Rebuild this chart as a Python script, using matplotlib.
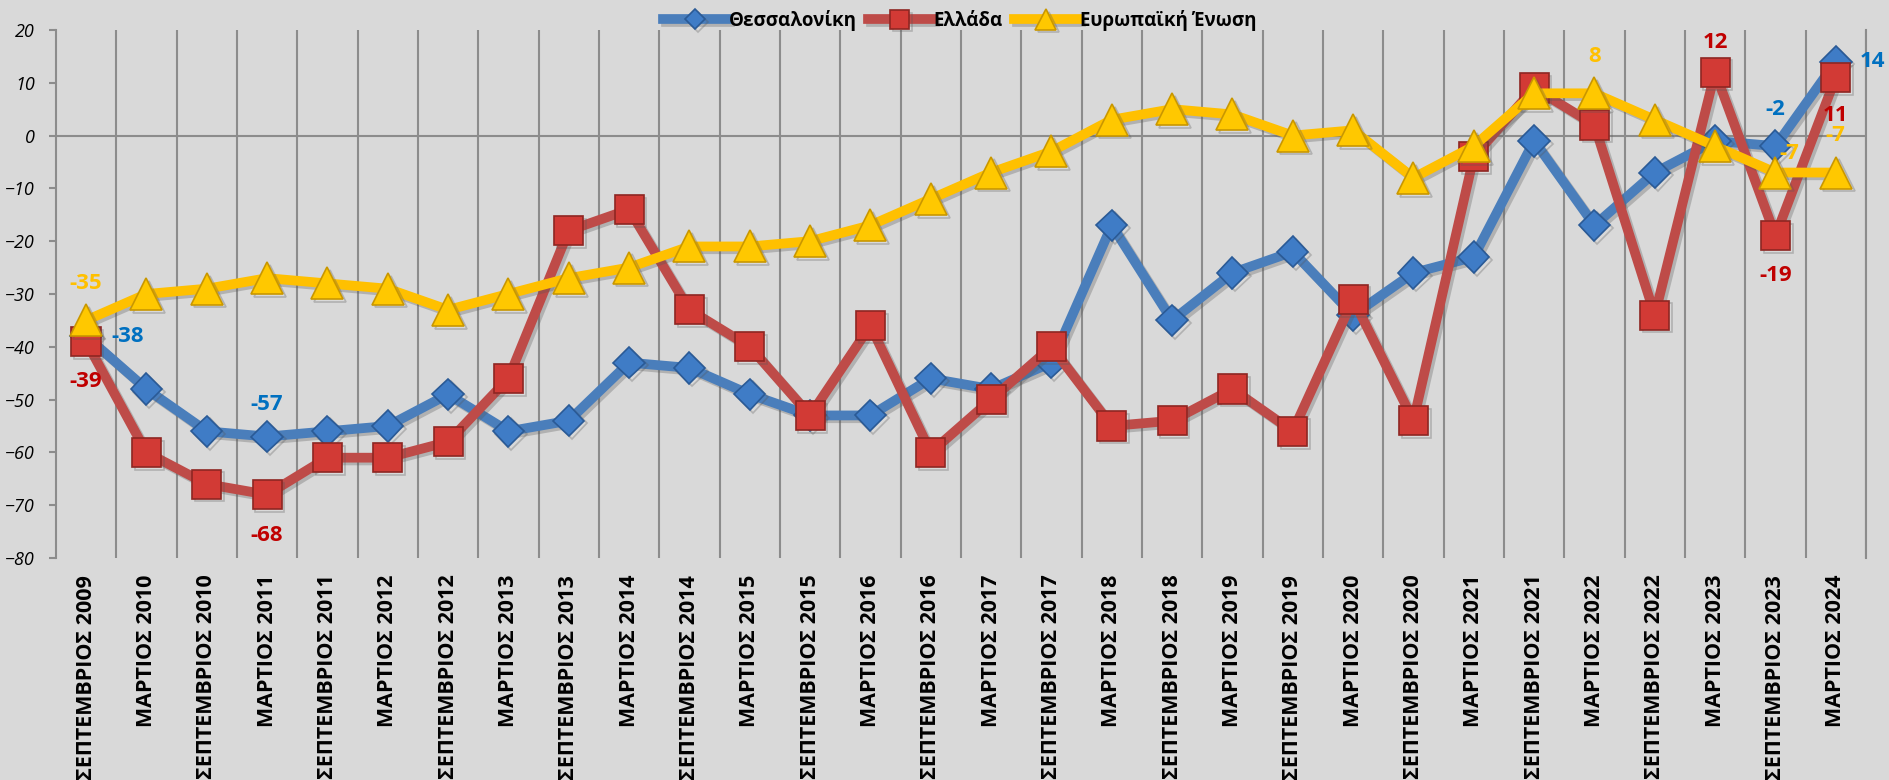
import numpy as np
import matplotlib
matplotlib.use("Agg")
import matplotlib.pyplot as plt
import matplotlib.patheffects as pe

plt.rcParams['font.family'] = ['Open Sans', 'DejaVu Sans']

# Data
periods = ['ΣΕΠΤΕΜΒΡΙΟΣ 2009', 'ΜΑΡΤΙΟΣ 2010', 'ΣΕΠΤΕΜΒΡΙΟΣ 2010', 'ΜΑΡΤΙΟΣ 2011',
           'ΣΕΠΤΕΜΒΡΙΟΣ 2011', 'ΜΑΡΤΙΟΣ 2012', 'ΣΕΠΤΕΜΒΡΙΟΣ 2012', 'ΜΑΡΤΙΟΣ 2013',
           'ΣΕΠΤΕΜΒΡΙΟΣ 2013', 'ΜΑΡΤΙΟΣ 2014', 'ΣΕΠΤΕΜΒΡΙΟΣ 2014', 'ΜΑΡΤΙΟΣ 2015',
           'ΣΕΠΤΕΜΒΡΙΟΣ 2015', 'ΜΑΡΤΙΟΣ 2016', 'ΣΕΠΤΕΜΒΡΙΟΣ 2016', 'ΜΑΡΤΙΟΣ 2017',
           'ΣΕΠΤΕΜΒΡΙΟΣ 2017', 'ΜΑΡΤΙΟΣ 2018', 'ΣΕΠΤΕΜΒΡΙΟΣ 2018', 'ΜΑΡΤΙΟΣ 2019',
           'ΣΕΠΤΕΜΒΡΙΟΣ 2019', 'ΜΑΡΤΙΟΣ 2020', 'ΣΕΠΤΕΜΒΡΙΟΣ 2020', 'ΜΑΡΤΙΟΣ 2021',
           'ΣΕΠΤΕΜΒΡΙΟΣ 2021', 'ΜΑΡΤΙΟΣ 2022', 'ΣΕΠΤΕΜΒΡΙΟΣ 2022', 'ΜΑΡΤΙΟΣ 2023',
           'ΣΕΠΤΕΜΒΡΙΟΣ 2023', 'ΜΑΡΤΙΟΣ 2024']

thessaloniki = [-38, -48, -56, -57, -56, -55, -49, -56, -54, -43,
                -44, -49, -53, -53, -46, -48, -43, -17, -35, -26,
                -22, -34, -26, -23, -1, -17, -7, -1, -2, 14]
greece = [-39, -60, -66, -68, -61, -61, -58, -46, -18, -14,
          -33, -40, -53, -36, -60, -50, -40, -55, -54, -48,
          -56, -31, -54, -4, 9, 2, -34, 12, -19, 11]
eu = [-35, -30, -29, -27, -28, -29, -33, -30, -27, -25,
      -21, -21, -20, -17, -12, -7, -3, 3, 5, 4,
      0, 1, -8, -2, 8, 8, 3, -2, -7, -7]

series_names = ['Θεσσαλονίκη', 'Ελλάδα', 'Ευρωπαϊκή Ένωση']

# which points carry a value label: (series index, point index, dx px, dy px)
labelled = [(2, 0, 0, 37), (0, 0, 42, 0), (1, 0, 0, -40),
            (0, 3, 0, 32), (1, 3, 0, -41),
            (2, 25, 0, 37), (1, 27, 0, 30),
            (0, 28, 0, 37), (1, 28, 0, -40), (2, 28, 14, 19),
            (0, 29, 37, 0), (1, 29, 0, -38), (2, 29, 0, 37)]

BG = '#D9D9D9'
GRID = '#8C8C8C'
line_cols = ['#4A7EBB', '#BE4B48', '#FFC000']
face_cols = ['#3F7CC6', '#D23A35', '#FFC800']
edge_cols = ['#2A5A96', '#8E2622', '#C99700']
label_cols = ['#0070C0', '#C00000', '#FFC000']
markers = ['D', 's', '^']
msizes = [16, 21, 23]

fig = plt.figure(figsize=(18.89, 7.8), dpi=100, facecolor=BG)
ax = fig.add_axes([0.0296, 0.2846, 0.9582, 0.677])
ax.set_facecolor(BG)

x = np.arange(len(periods))
all_series = [thessaloniki, greece, eu]
shadow = [pe.SimpleLineShadow(offset=(2, -2), shadow_color='#555555', alpha=0.3), pe.Normal()]
lines = []
for k, vals in enumerate(all_series):
    ln, = ax.plot(x, vals, color=line_cols[k], lw=7, marker=markers[k], ms=msizes[k],
                  mfc=face_cols[k], mec=edge_cols[k], mew=1.2, solid_joinstyle='round',
                  label=series_names[k], zorder=3 + k, path_effects=shadow)
    lines.append(ln)

for s, i, dx, dy in labelled:
    v = all_series[s][i]
    ax.annotate(str(v), (x[i], v), xytext=(dx, dy), textcoords='offset pixels',
                ha='center', va='center', fontsize=16, fontweight='bold',
                color=label_cols[s], zorder=10)

ax.set_xlim(-0.5, len(periods) - 0.5)
ax.set_ylim(-80, 20)
ax.set_yticks(np.arange(-80, 21, 10))
ax.set_xticks(x)
ax.set_xticklabels(periods, rotation=90, fontsize=15.5, fontweight='bold')
ax.set_xticks(np.arange(0.5, len(periods), 1), minor=True)
ax.grid(True, which='minor', axis='x', color=GRID, lw=1.5)
ax.axhline(0, color=GRID, lw=1.5, zorder=1)
ax.tick_params(axis='x', which='both', length=0, pad=12)
ax.tick_params(axis='y', length=5, color=GRID, width=1.5, pad=10, labelsize=13)
for t in ax.get_yticklabels():
    t.set_fontstyle('italic')
for side in ['top', 'bottom']:
    ax.spines[side].set_visible(False)
for side in ['left', 'right']:
    ax.spines[side].set_color(GRID)
    ax.spines[side].set_linewidth(1.5)

fig.legend(handles=lines, loc='center', bbox_to_anchor=(0.508, 0.974), ncol=3,
           frameon=False, markerscale=0.65, handlelength=3.4, handletextpad=0.1,
           columnspacing=0.6, prop={'weight': 'bold', 'size': 13.5})

fig.savefig('out.png', dpi=100, facecolor=BG)
